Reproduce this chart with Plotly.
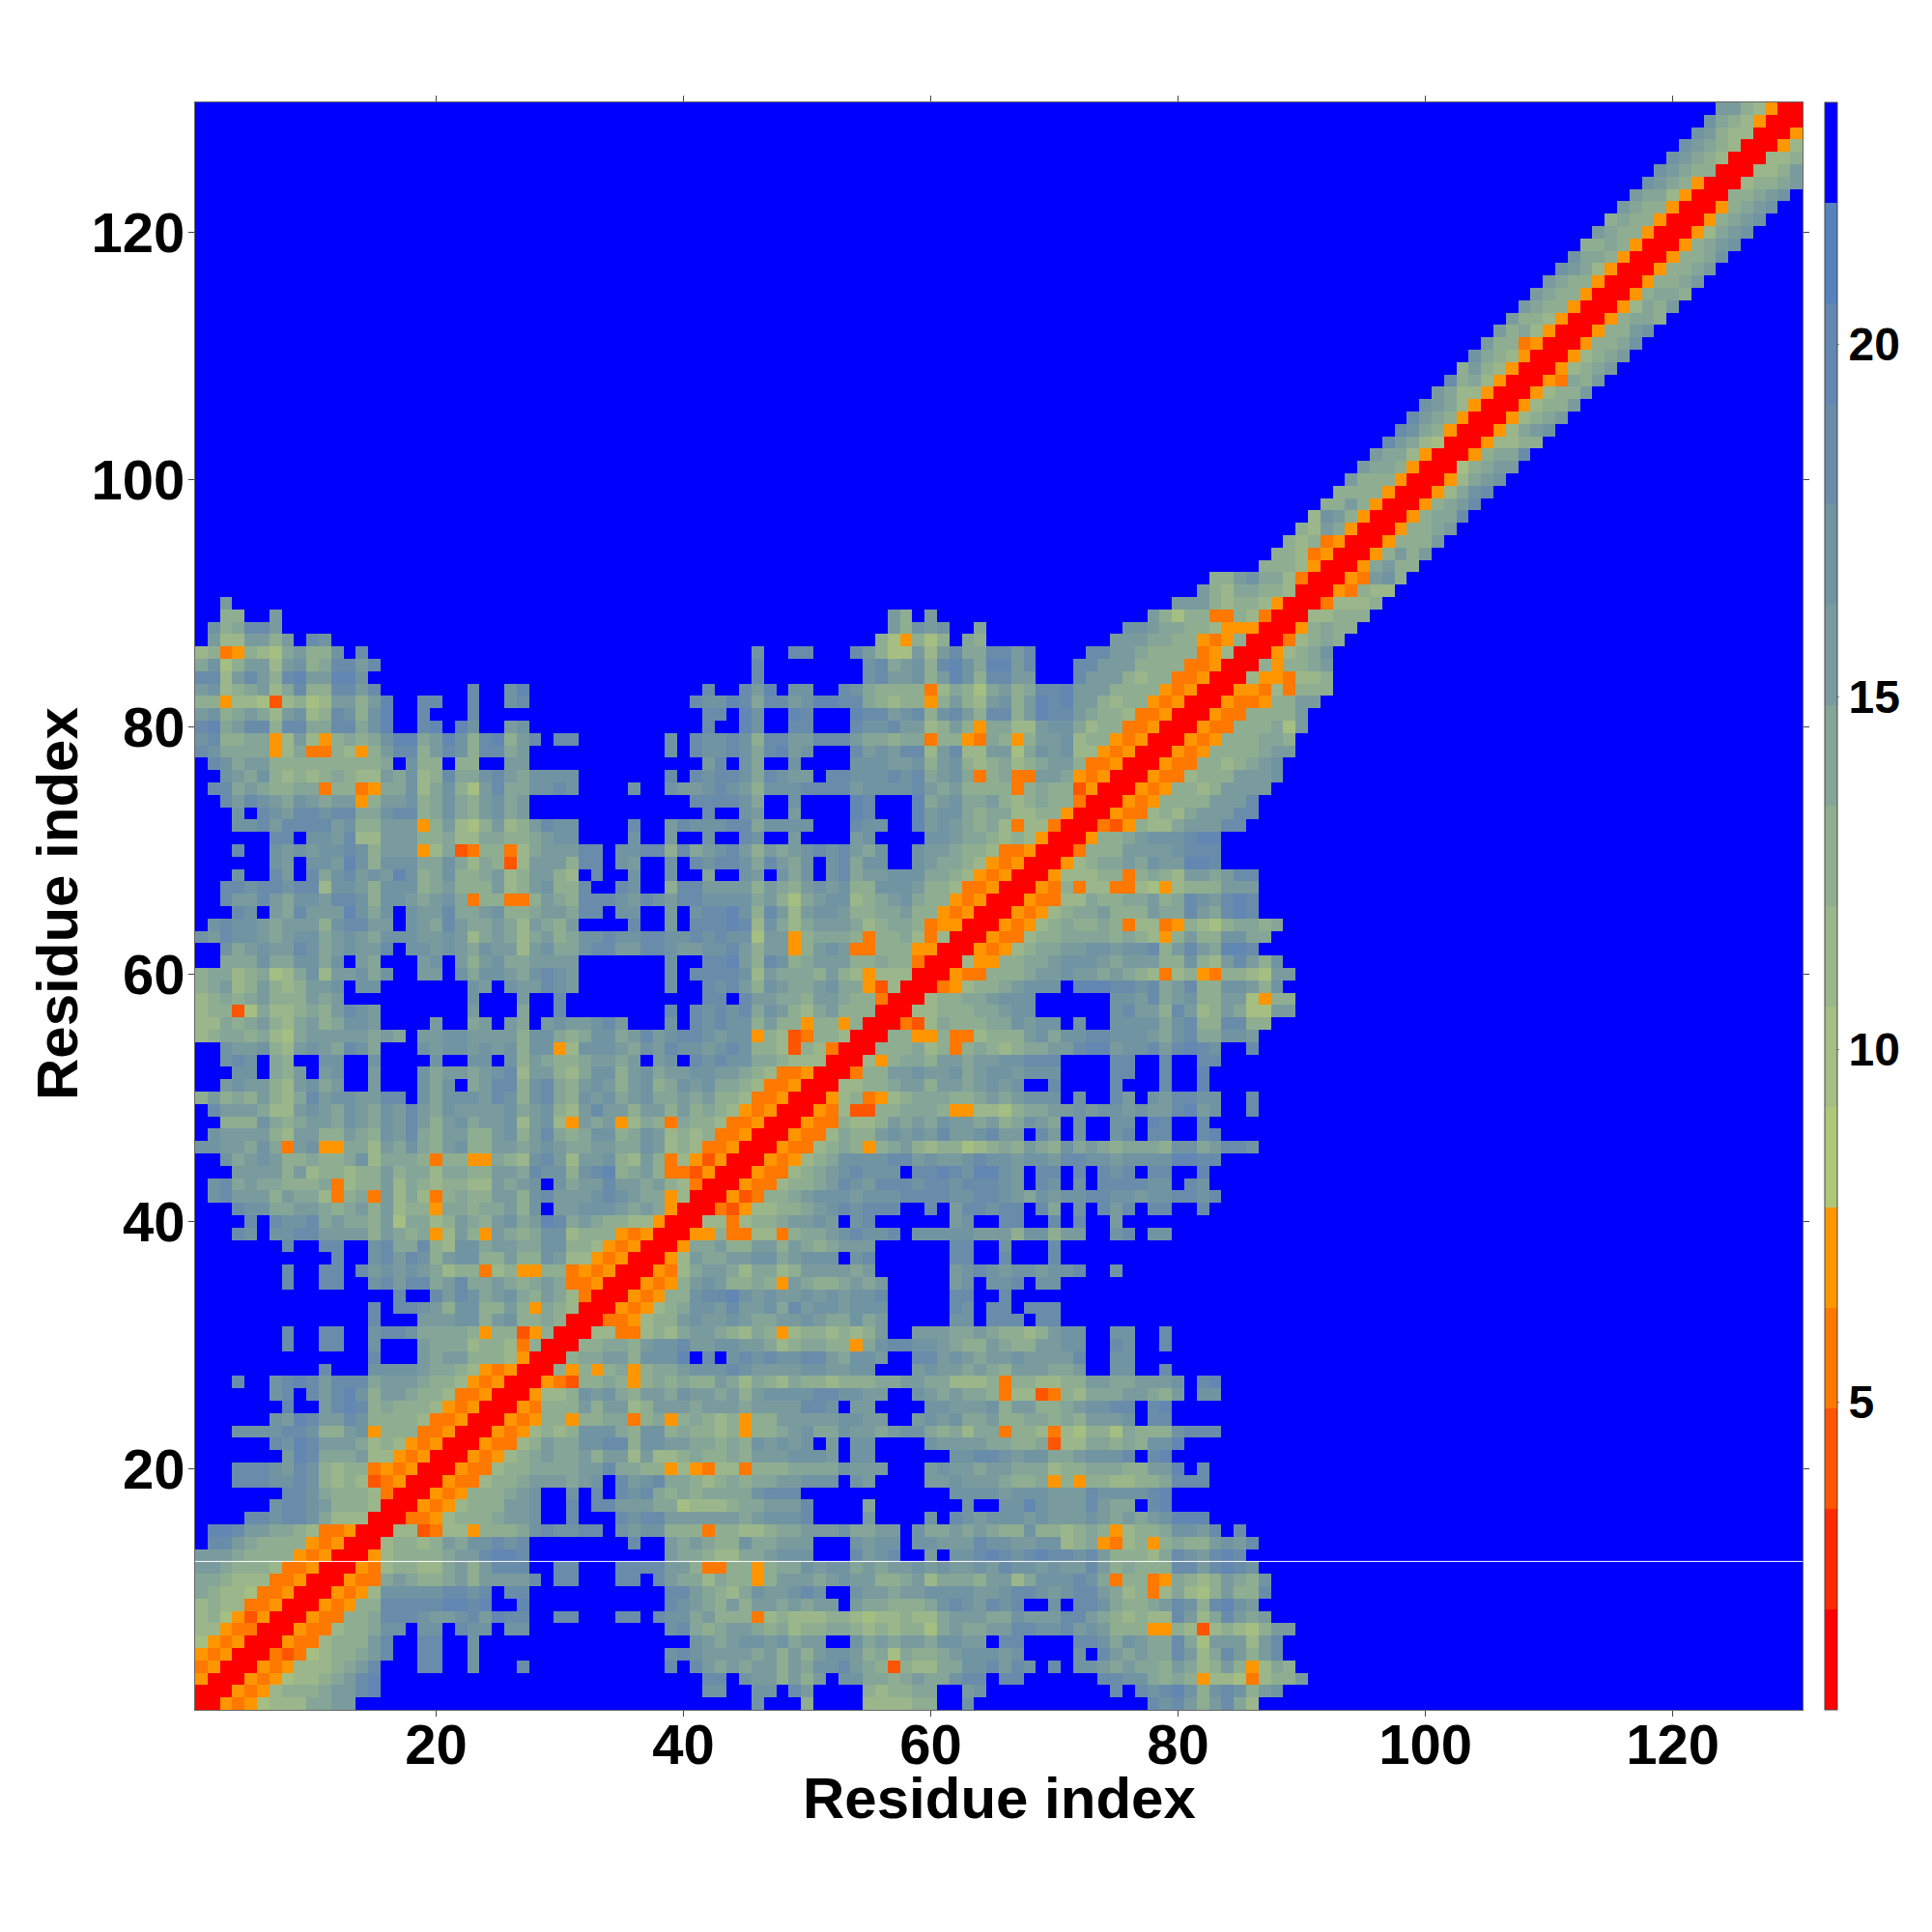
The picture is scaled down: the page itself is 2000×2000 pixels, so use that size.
import plotly.graph_objects as go

N = 130
Z_MIN = 0.63
Z_MAX = 23.43
TICKS_MAIN = [20, 40, 60, 80, 100, 120]
TICKS_BAR = [5, 10, 15, 20]
AXIS_TITLE = "Residue index"
SEAM_ROW = 12.5

# one colour per distance band, lowest distance first
BANDS = ["#ff0000", "#ff2a00", "#ff5500", "#ff7800", "#ff9600",
         "#afc878", "#a5be82", "#9bb68a", "#8fae91", "#84a598",
         "#7a9b9e", "#7194a3", "#698caa", "#6287b2", "#5582be", "#0000ff"]

# Band of each cell (0 = closest ... F = out of range). Matrix is symmetric.
# rows y=1..40, from x=y up to x=40
ROWS_A = [
"00434677799AA",
"0043478889AACD",
"0043467789ACD",
"0043477789AC"+"FFF"+"CC"+"FF"+"B"+"FFF"+"C"+"FFFFFFFFFFF"+"C"+"F",
"003236788"+"9AC"+"FF"+"CC"+"FF"+"B"+"FFFFFFFFFFFFFFF"+"BC",
"004337888AC"+"FF"+"CC"+"FF"+"B",
"004337889BB"+"F"+"BB"+"F"+"CBB"+"F"+"BB"+"FFFFFFFFFFF"+"BC",
"00433889CCCBAABCADCC"+"FF"+"CC"+"FFF"+"CC"+"F"+"CBB",
"0043488CCCCCDDCD"+"FF"+"D"+"FFFFFFFFFFF"+"CB",
"004347BBBBBCCBC"+"F"+"CC"+"FFFFFFFFFFF"+"CC",
"004339A9889A8AAAAC"+"F"+"CC"+"FFF"+"CC"+"F"+"CA9",
"0043788779A8ACCC"+"FF"+"CC"+"FFF"+"CCCC"+"AA",
"004788889AACDDC"+"FFFFFFFFFFF"+"A9",
"0078878A9BBCBC"+"FFFFFFFF"+"C"+"FF"+"A9",
"007723774888"+"9BCBBCC"+"F"+"BABB88",
"0033478889AAB"+"FF"+"C"+"FFF"+"CBCCAA",
"004347888AAB"+"FF"+"C"+"F"+"CC"+"AAA996",
"004348889AB"+"FF"+"B"+"F"+"C"+"F"+"CBC989",
"004337889AAA9AB"+"F"+"CABC99",
"004337889999AAC998847",
"00434789A99A8AA7A778",
"0043378A99BBCC8BBAA",
"004347878BBB98BB89",
"00434884889938948",
"0043888A8AA78AAA",
"004778BAB98AA9B",
"00432889848989",
"008484894899A",
"00899AA8BBBD",
"0088998ABBC",
"0077337879",
"00334788A",
"00434789",
"0043488",
"004348",
"00437",
"0047",
"004",
"00",
"0",
]
# rows y=1..40, x=41..77
ROWS_B = [
"FFFFFBFFF8"+"FFFF777788"+"FFBFFFFFFF"+"FFFFFFF",
"FBBFFBBFCA"+"FFFF878899"+"FFABFFFFFF"+"FFFFCFC",
"FCCFBAA8A8"+"AFBB9989A9"+"9BCCFCCFFF"+"FFFCCBB",
"CA9A9AA8A9"+"BBCA982877"+"99BBCACBFC"+"FBBA9A9",
"BAAAA9A8A8"+"ABBA896988"+"9ABBBABFFF"+"FBFCA9A",
"BA9ABBAB9A"+"AFFB9A9AA9"+"BBAAFCCFFF"+"FCCB9BA",
"989AA98978"+"8998787886"+"9A99AACCBB"+"CABA888",
"9A88837877"+"7887677877"+"9AAA99BAAA"+"CCA9878",
"A98A8AA9A9"+"AAFA998889"+"BCBACBCFFB"+"FCCB988",
"A9879BAABC"+"BFFBAA9AAB"+"BBBAABCCBA"+"BCCA978",
"9798848AAA"+"9ABAA889A7"+"9998AA79BB"+"BCB9388",
"833884899B"+"ABB9A9AABA"+"BAABACBBAB"+"AACA898",
"987799ABBB"+"FFFCABCFFA"+"FBBCDCBCDC"+"CBCA888",
"A988B99AAA"+"FFFBABBFBB"+"AAACBBAABB"+"7894378",
"838877899A"+"AAB99AAFB9"+"9A9A988B88"+"7898478",
"AAAA9ABBBC"+"FFFFAFFFFB"+"FCBABBBABA"+"AABA9A9",
"777899AAAC"+"FFFF9FFFFF"+"FFBFFBBDBA"+"AACA99F",
"89999BCCCF"+"FFFFFFFFFF"+"FBBBBABBBA"+"AACBBBB",
"8789899AAB"+"BBFBAFFFFA"+"ABAAA98894"+"8488778",
"4377388899"+"99BAAAFFFA"+"BAA9AA9997"+"8899988",
"98898AAABB"+"BAFBBFFFFF"+"FBBCCBABB9"+"9ABBBCF",
"99898BABAB"+"FAFBBFFFFB"+"AAAA998892"+"7799898",
"88784889AB"+"99BAA9ABB9"+"8979938873"+"7688698",
"9878488AAA"+"AABBAAFFAB"+"AB99A88998"+"98AAABF",
"9AAA9AAAAC"+"CBFAAFFFFB"+"BAAAB8AA88"+"9ABBCCF",
"AA9A8ABBBB"+"CCBBAAFFBA"+"9A99837723"+"87999AA",
"88A9798798"+"8788899AA9"+"9777838877"+"88AA99A",
"BBBCBAAAAB"+"BAABBFFFAB"+"AA9A98AAA9"+"9AFFBBF",
"FCFBCBCBBC"+"CA9BBAFFCC"+"ABA9AABAAA"+"ACFFBBF",
"AABBAA9789"+"98849BCCBB"+"A988A988AA"+"BBFFCBF",
"AA98798478"+"87878AFFAA"+"A99A98878A"+"BBFFBBF",
"BAABA99AAB"+"A99B9AFFFF"+"FBBFCCCFCC"+"FFFFFFF",
"BBACAAB9CA"+"BBABBBFFFF"+"FCBFCCFCCC"+"FFFFFFF",
"BCCDBABAAB"+"ABABBCFFFF"+"FCCFFCFFFF"+"FFFFFFF",
"ABA88984A9"+"889A9AFFFF"+"FABFBBCFBB"+"FFFFFFF",
"9AA979978A"+"AAA9AFFFFF"+"FABCBABBAB"+"BCFFBFF",
"A99AABB9AB"+"BBFBCFFFFF"+"FCCFFCFFFC"+"FFFFFFF",
"99A88AA8A9"+"89AAAFFFFF"+"FCCFFBFFFC"+"FFFFFFF",
"4483377389"+"9ABCBBCFBB"+"BBBAAA8BB8"+"AAFFBCF",
"07737889AA"+"BAFBCFFFFF"+"FABFFCCFFC"+"FCFFAFF",
]
# rows y=41..77, from x=y up to x=77
ROWS_C = [
"0032477889"+"ABCBCCCFFC"+"FACCBCCFC9"+"FBFCACF",
"00423889A"+"BBBABBBCCC"+"CBBCCBA9BA"+"BBCCBBA",
"00433788"+"9ACBACCCBC"+"CBCCCBAFCB"+"FBFCCCC",
"0043378"+"9ABCBBBFCC"+"DCBDDBAFCC"+"FCFCBCF",
"004347"+"89BBBBCCAB"+"AABCBBABBA"+"CCBBABB",
"00433"+"7898489A87"+"8867898A98"+"B9A9899",
"0043"+"37988ABABA"+"CAABCAAFCA"+"FBFFBCF",
"004"+"338778A9A9"+"BAA9A89BA9"+"FBFFBBF",
"00"+"4372288999"+"844776899A"+"ABABBAB",
"0"+"0478347899"+"9889A9ABBB"+"FBFFCAF",
"0077889AA8"+"AA9ABABFFC"+"FFFFCFF",
"00388AABA"+"AB9ABBABBB"+"FFFFCCF",
"00748998"+"AA9AABBCCC"+"FFFFCCF",
"0088897"+"838987899A"+"ACDDABB",
"008844"+"8337888AB9"+"BBCCBBB",
"00327"+"988899BABB"+"FBFFBBB",
"0077"+"88899ABBFF"+"FFFFBCA",
"007"+"8899ABBBFF"+"FFFFBBA",
"00"+"347889ABBB"+"FDDDCCB",
"0"+"04338889AA"+"BAA9A98",
"007448899A"+"BBBA9AA",
"004347899"+"AABBABB",
"00433788"+"9999898",
"0043478"+"9889837",
"004347"+"899A888",
"00433"+"7798899",
"0043"+"8377337",
"004"+"7778838",
"00"+"47899A9",
"0"+"03888AA",
"004889A",
"003248",
"00433",
"0043",
"004",
"00",
"0",
]
# rows y=1..81, from x=78 outward
ROWS_D = [
"CBCA8AC97","BCDB8BCB8AB","989847763788A","98A978A84798","99CA79CA8AC","99C96AAA7AC",
"4487278768AA","77CA79CA9A","9ACB8CDBA","379768A88C","349878A98B","88CCACDCB",
"79CBACDC","48988ABAC","89BBACFC","ABDDD","CD","CD","89CCC","AADFC","CD","BBD",
"88BCCC","CC","CD","98AFBB","AABFCD","FC","","FC","FC","","","","","","","","BB","",
"CCFFC","BBCCBC","BBFCB","CCFFD","BBDDCC","98BB9ACCB","CCFFCD","DCFFC","AACDABFFC",
"BACCBBFFC","FCFFD","FCFFD","FCFFCC","CACDCBFFC","A9BC99BBA","B9BC88CC88","A8CA78A966AA",
"C9AB88AA6488","C9AC88BBA8B","7378438876AA","A88B87ACA8B","C8ACA9DDC","748A88BB99",
"73487689989","A99CA9CDC","A89CBACDC","647888AAA","987AA9ACC","BAADDC","AABCCC","BBBCDD",
"779AAACC","7879AAACC","48888AAAC","348878AAAA","4337888AAAB","043388789AB","0043488889AA",
"000434888998","400043388896A","340004338888A",
]
# rows y=82..130, from x=y outward
ROWS_E = [
"00433488AA","0044373888","007443778","0084889A","004789B","0037898","0048988","0077888",
"0037778","0043877","0043AB8","0049A88","0048A8A","004888A","004889A","004899C","00489AC",
"00479BC","00479AB","00689AA","004899C","0047788","00479AB","004789A","004788A","004788A",
"004398A","004789A","004789A","004889B","00488AB","0048998","004798A","0048998","004889A",
"004889A","004889B","00489AB","00479AB","00489AB","00489AB","00889AB","007889A","00778A",
"00778","0047","004","00","0",
]

grid = [["F"] * N for _ in range(N)]

def place(y, x0, text):
    for i, ch in enumerate(text):
        x = x0 + i
        if x >= y and x <= N:
            grid[y - 1][x - 1] = ch
            grid[x - 1][y - 1] = ch

for k, s in enumerate(ROWS_A):
    place(k + 1, k + 1, s)
for k, s in enumerate(ROWS_B):
    place(k + 1, 41, s)
for k, s in enumerate(ROWS_C):
    place(k + 41, k + 41, s)
for k, s in enumerate(ROWS_D):
    place(k + 1, 78, s)
for k, s in enumerate(ROWS_E):
    place(k + 82, k + 82, s)

step = (Z_MAX - Z_MIN) / len(BANDS)
z = [[Z_MIN + (int(c, 16) + 0.5) * step for c in row] for row in grid]
axis_vals = list(range(1, N + 1))

scale = []
for i, col in enumerate(BANDS):
    scale.append([i / len(BANDS), col])
    scale.append([(i + 1) / len(BANDS), col])

PLOT_L, PLOT_R, PLOT_T, PLOT_B = 202, 1866, 106, 1770
PLOT_W, PLOT_H = PLOT_R - PLOT_L, PLOT_B - PLOT_T
FONT = "Liberation Sans"
title_font = dict(family=FONT, size=60, color="black", weight="bold")

fig = go.Figure(go.Heatmap(
    x=axis_vals, y=axis_vals, z=z, zmin=Z_MIN, zmax=Z_MAX, colorscale=scale,
    colorbar=dict(
        x=(1889 - PLOT_L) / PLOT_W, xanchor="left", xpad=0, ypad=0,
        y=0, yanchor="bottom", len=1, lenmode="fraction",
        thickness=13, thicknessmode="pixels",
        outlinecolor="#444444", outlinewidth=1,
        tickmode="array", tickvals=TICKS_BAR, ticktext=[str(t) for t in TICKS_BAR],
        ticks="outside", ticklen=2, tickcolor="#888888", tickwidth=1,
        tickfont=dict(family=FONT, size=48, color="black", weight="bold"),
    ),
))

axis_common = dict(
    range=[0.5, 130.5], tickmode="array", tickvals=TICKS_MAIN,
    ticktext=[str(t) for t in TICKS_MAIN], ticks="outside", ticklen=6, tickwidth=1,
    tickcolor="#444444", showline=True, linecolor="#666666", linewidth=1, mirror="ticks",
    showgrid=False, zeroline=False,
    tickfont=dict(family=FONT, size=58, color="black", weight="bold"),
)
fig.update_xaxes(**axis_common, ticklabelstandoff=-21)
fig.update_yaxes(**axis_common, ticklabelstandoff=-8)

fig.add_annotation(text=AXIS_TITLE, xref="paper", yref="paper",
                   x=(1034 - PLOT_L) / PLOT_W, y=-(1861 - PLOT_B) / PLOT_H,
                   xanchor="center", yanchor="middle", showarrow=False, font=title_font)
fig.add_annotation(text=AXIS_TITLE, xref="paper", yref="paper", textangle=-90,
                   x=(60 - PLOT_L) / PLOT_W, y=(PLOT_B - 936) / PLOT_H,
                   xanchor="center", yanchor="middle", showarrow=False, font=title_font)

fig.add_shape(type="line", xref="x", yref="y", x0=0.5, x1=130.5, y0=SEAM_ROW, y1=SEAM_ROW,
              line=dict(color="white", width=1), layer="above")

fig.update_layout(
    width=2000, height=2000, autosize=False, paper_bgcolor="white", plot_bgcolor="white",
    margin=dict(l=PLOT_L, r=2000 - PLOT_R, t=PLOT_T, b=2000 - PLOT_B, pad=0, autoexpand=False),
)

fig.write_html("out.html", config={"displayModeBar": False},
               post_script="document.body.style.margin='0';")
